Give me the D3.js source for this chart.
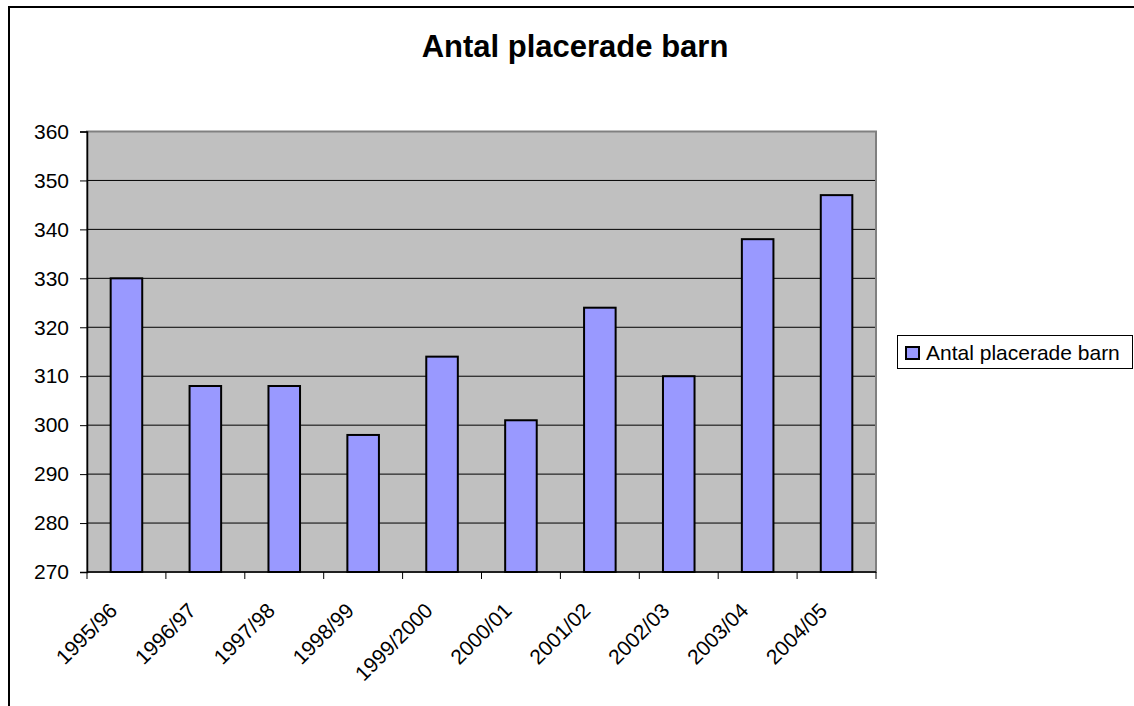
<!DOCTYPE html>
<html>
<head>
<meta charset="utf-8">
<script src="https://cdn.jsdelivr.net/npm/d3@7/dist/d3.min.js"></script>
<style>
  html, body { margin: 0; padding: 0; background: #fff; }
  svg { display: block; }
  text { font-family: Arial, "Liberation Sans", sans-serif; fill: #000; }
</style>
</head>
<body>
<svg id="chart" width="1134" height="706"></svg>
<script>
const title = "Antal placerade barn";
const seriesName = "Antal placerade barn";
const categories = ["1995/96","1996/97","1997/98","1998/99","1999/2000","2000/01","2001/02","2002/03","2003/04","2004/05"];
const values = [330, 308, 308, 298, 314, 301, 324, 310, 338, 347];
const yTicks = [270, 280, 290, 300, 310, 320, 330, 340, 350, 360];

const svg = d3.select("#chart");
const W = 1134, H = 706;
const plot = { left: 87, right: 876, top: 131.5, bottom: 572 };
const FS = 21;

svg.append("rect").attr("width", W).attr("height", H).attr("fill", "#fff");
// outer chart border
svg.append("rect").attr("x", 9).attr("y", 7).attr("width", W).attr("height", H)
  .attr("fill", "none").attr("stroke", "#000").attr("stroke-width", 2);

// title
svg.append("text").attr("x", 575).attr("y", 57).attr("text-anchor", "middle")
  .attr("font-weight", "bold").attr("font-size", 31).text(title);

const x = d3.scaleBand().domain(categories).range([plot.left, plot.right])
  .paddingInner(0.6).paddingOuter(0.3);
const y = d3.scaleLinear().domain([270, 360]).range([plot.bottom, plot.top]);

// plot background
svg.append("rect").attr("x", plot.left).attr("y", plot.top)
  .attr("width", plot.right - plot.left).attr("height", plot.bottom - plot.top)
  .attr("fill", "#c0c0c0");

// gridlines
svg.append("g").selectAll("line").data(yTicks.slice(1, -1)).join("line")
  .attr("x1", plot.left).attr("x2", plot.right)
  .attr("y1", d => y(d)).attr("y2", d => y(d))
  .attr("stroke", "#000").attr("stroke-width", 1);

// plot border
svg.append("rect").attr("x", plot.left).attr("y", plot.top)
  .attr("width", plot.right - plot.left).attr("height", plot.bottom - plot.top)
  .attr("fill", "none").attr("stroke", "#808080").attr("stroke-width", 2);

// bars
svg.append("g").selectAll("rect").data(values).join("rect")
  .attr("x", (d, i) => x(categories[i]))
  .attr("y", d => y(d))
  .attr("width", x.bandwidth())
  .attr("height", d => y(270) - y(d))
  .attr("fill", "#9999ff").attr("stroke", "#000").attr("stroke-width", 2);

// y axis
const yAxis = d3.axisLeft(y).tickValues(yTicks).tickSize(7).tickPadding(11).tickFormat(d3.format("d"));
const gy = svg.append("g").attr("transform", `translate(${plot.left},0)`).call(yAxis);
gy.select(".domain").attr("stroke", "#000").attr("stroke-width", 1.5);
gy.selectAll(".tick line").attr("stroke", "#000");
gy.selectAll(".tick text").attr("font-size", FS).attr("font-family", "Arial, 'Liberation Sans', sans-serif").attr("fill", "#000");

// x axis
const boundaries = d3.range(categories.length + 1);
const step = x.step();
const x0 = x(categories[0]) - x.paddingOuter() * step;
svg.append("line").attr("x1", plot.left).attr("x2", plot.right)
  .attr("y1", plot.bottom).attr("y2", plot.bottom).attr("stroke", "#000").attr("stroke-width", 1.5);
svg.append("g").selectAll("line").data(boundaries).join("line")
  .attr("x1", i => x0 + i * step).attr("x2", i => x0 + i * step)
  .attr("y1", plot.bottom).attr("y2", plot.bottom + 7)
  .attr("stroke", "#000");

svg.append("g").selectAll("text").data(categories).join("text")
  .attr("transform", d => `translate(${x(d) + x.bandwidth() / 2 - 8},612) rotate(-45)`)
  .attr("text-anchor", "end").attr("font-size", FS).text(d => d);

// legend
const lg = svg.append("g");
lg.append("rect").attr("x", 897.5).attr("y", 335.5).attr("width", 235).attr("height", 33)
  .attr("fill", "#fff").attr("stroke", "#000").attr("stroke-width", 1);
lg.append("rect").attr("x", 906).attr("y", 347).attr("width", 13).attr("height", 12)
  .attr("fill", "#9999ff").attr("stroke", "#000").attr("stroke-width", 2);
lg.append("text").attr("x", 926).attr("y", 359.5).attr("font-size", FS).text(seriesName);
</script>
</body>
</html>
